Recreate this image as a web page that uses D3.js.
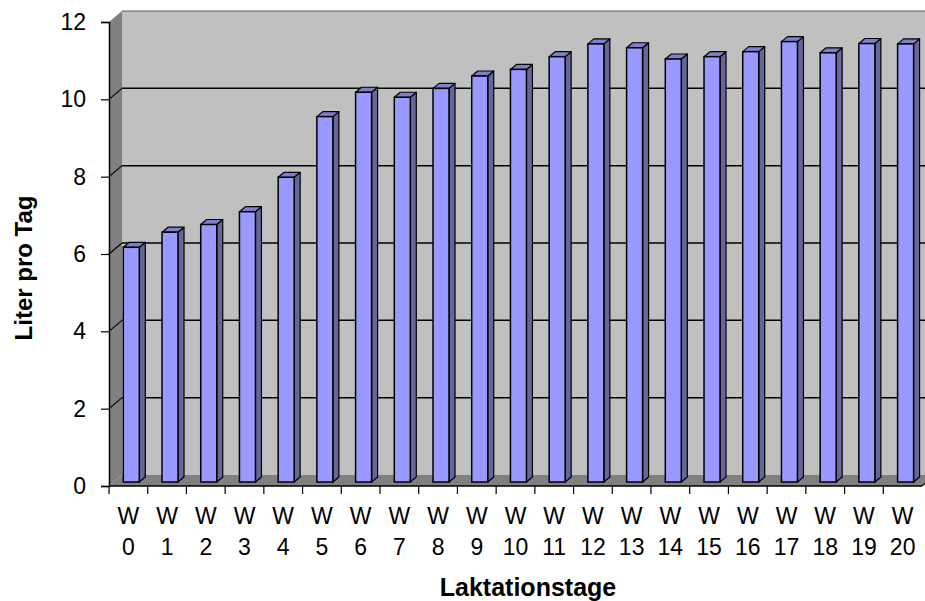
<!DOCTYPE html>
<html>
<head>
<meta charset="utf-8">
<script src="https://cdn.jsdelivr.net/npm/d3@7"></script>
<style>
  body { margin: 0; background: #fff; }
  text { font-family: Arial, "Liberation Sans", sans-serif; fill: #000; }
</style>
</head>
<body>
<svg id="chart"></svg>
<script>
// data
const weeks = ["0","1","2","3","4","5","6","7","8","9","10","11","12","13","14","15","16","17","18","19","20"];
const liters = [6.07, 6.46, 6.66, 6.99, 7.88, 9.45, 10.08, 9.95, 10.18, 10.5, 10.67,
                11.0, 11.33, 11.23, 10.94, 11.0, 11.13, 11.39, 11.1, 11.34, 11.33];
const yTicks = [0, 2, 4, 6, 8, 10, 12];

const width = 925, height = 601;
const svg = d3.select("#chart").attr("width", width).attr("height", height);

// front plane scales
const x = d3.scaleBand().domain(weeks).range([109, 922]).padding(0);
const y = d3.scaleLinear().domain([0, 12]).range([486, 22]);

// depth of the 3d box
const dx = 13, dy = -11;
// bar placement inside the depth
const barDy = -4, barSide = 6, barTop = -5;
const barOff = 14.3, barW = 16;

const x0 = x.range()[0], x1 = x.range()[1];

// back wall
svg.append("path")
  .attr("d", `M${x0 + dx},${y(12) + dy} L${x1 + dx + 20},${y(12) + dy} L${x1 + dx + 20},${y(0) + dy} L${x0 + dx},${y(0) + dy} Z`)
  .attr("fill", "#c0c0c0");

// left wall
svg.append("path")
  .attr("d", `M${x0},${y(12)} L${x0 + dx},${y(12) + dy} L${x0 + dx},${y(0) + dy} L${x0},${y(0)} Z`)
  .attr("fill", "#808080");

// floor
svg.append("path")
  .attr("d", `M${x0},${y(0)} L${x0 + dx},${y(0) + dy} L${x1 + dx},${y(0) + dy} L${x1},${y(0)} Z`)
  .attr("fill", "#808080");

// gridlines on back wall + connectors on left wall
svg.selectAll(".grid")
  .data(yTicks.filter(d => d > 0))
  .join("line")
  .attr("class", "grid")
  .attr("x1", x0 + dx).attr("x2", width)
  .attr("y1", d => y(d) + dy).attr("y2", d => y(d) + dy)
  .attr("stroke", "#000").attr("stroke-width", d => d === 12 ? 1 : 1.5)
  .attr("stroke-opacity", d => d === 12 ? 0.6 : 1);

svg.selectAll(".gridSide")
  .data(yTicks.filter(d => d > 0 && d < 12))
  .join("line")
  .attr("class", "gridSide")
  .attr("x1", x0).attr("x2", x0 + dx)
  .attr("y1", d => y(d)).attr("y2", d => y(d) + dy)
  .attr("stroke", "#000").attr("stroke-width", 1.2);

// bars
const bars = svg.append("g").selectAll("g")
  .data(weeks.map((w, i) => ({ w, v: liters[i] })))
  .join("g");

bars.each(function(d) {
  const g = d3.select(this);
  const bx = x(d.w) + barOff;
  const by0 = y(0) + barDy;
  const byt = y(d.v) + barDy;
  // side
  g.append("path")
    .attr("d", `M${bx + barW},${byt} L${bx + barW + barSide},${byt + barTop} L${bx + barW + barSide},${by0 + barTop} L${bx + barW},${by0} Z`)
    .attr("fill", "#666699").attr("stroke", "#000").attr("stroke-width", 1.2).attr("stroke-linejoin", "round");
  // top
  g.append("path")
    .attr("d", `M${bx},${byt} L${bx + barSide},${byt + barTop} L${bx + barW + barSide},${byt + barTop} L${bx + barW},${byt} Z`)
    .attr("fill", "#7f7fcc").attr("stroke", "#000").attr("stroke-width", 1.2).attr("stroke-linejoin", "round");
  // front
  g.append("rect")
    .attr("x", bx).attr("y", byt)
    .attr("width", barW).attr("height", by0 - byt)
    .attr("fill", "#9999ff").attr("stroke", "#000").attr("stroke-width", 1.5);
});

// y axis
const yAxis = svg.append("g")
  .attr("transform", `translate(${x0},0)`)
  .call(d3.axisLeft(y).tickValues(yTicks).tickSize(8).tickPadding(15));
yAxis.select(".domain").attr("stroke-width", 1.5);
yAxis.selectAll("line").attr("stroke-width", 1.2);
yAxis.selectAll("text").attr("font-size", 23).style("font-family", "Arial, 'Liberation Sans', sans-serif");

// x axis (ticks on category boundaries)
svg.append("line")
  .attr("x1", x0).attr("x2", x1)
  .attr("y1", y(0)).attr("y2", y(0))
  .attr("stroke", "#000").attr("stroke-width", 1.5);
svg.append("line")
  .attr("x1", x1).attr("x2", x1 + dx)
  .attr("y1", y(0)).attr("y2", y(0) + dy)
  .attr("stroke", "#000").attr("stroke-width", 1.2);
svg.selectAll(".xtick")
  .data(weeks)
  .join("line")
  .attr("class", "xtick")
  .attr("x1", d => x(d)).attr("x2", d => x(d))
  .attr("y1", y(0)).attr("y2", y(0) + 8)
  .attr("stroke", "#000").attr("stroke-width", 1.2);

const xl = svg.selectAll(".xlab")
  .data(weeks)
  .join("text")
  .attr("class", "xlab")
  .attr("text-anchor", "middle")
  .attr("font-size", 23);
xl.append("tspan").attr("x", d => x(d) + x.bandwidth() / 2).attr("y", 524).text("W");
xl.append("tspan").attr("x", d => x(d) + x.bandwidth() / 2).attr("y", 555).text(d => d);

// titles
svg.append("text")
  .attr("x", 528).attr("y", 596)
  .attr("text-anchor", "middle")
  .attr("font-size", 25).attr("font-weight", "bold")
  .text("Laktationstage");

svg.append("text")
  .attr("transform", "translate(32,268) rotate(-90)")
  .attr("text-anchor", "middle")
  .attr("font-size", 24).attr("font-weight", "bold")
  .text("Liter pro Tag");
</script>
</body>
</html>
